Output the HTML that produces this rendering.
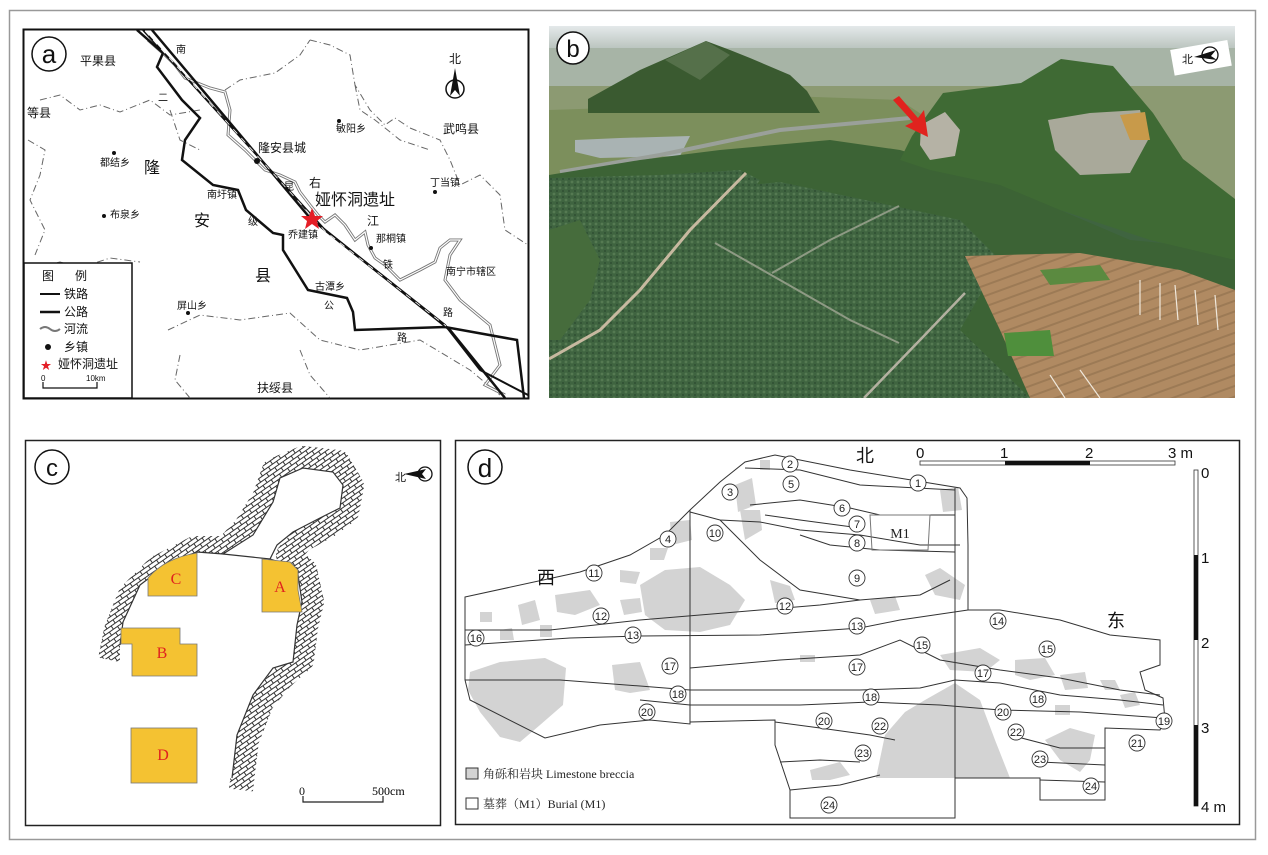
<!DOCTYPE html>
<html><head><meta charset="utf-8"><style>
html,body{margin:0;padding:0;background:#fff;}
body{width:1268px;height:855px;position:relative;overflow:hidden;font-family:"Liberation Serif","Noto Serif CJK SC","Noto Sans CJK SC",serif;}
svg{position:absolute;left:0;top:0;}
.t{font-family:"Liberation Sans","Noto Sans CJK SC",sans-serif;fill:#111;}
.n{font-family:"Liberation Sans",sans-serif;font-size:11px;fill:#222;text-anchor:middle;}
</style></head><body>
<svg width="1268" height="855" viewBox="0 0 1268 855">
<defs>
<pattern id="hatch" width="10" height="8" patternUnits="userSpaceOnUse" patternTransform="rotate(-35)">
<rect width="10" height="8" fill="#fff"/>
<path d="M0 0.5H10 M0 4.5H10 M2 0.5V4.5 M7 4.5V8.5" stroke="#333" stroke-width="1" fill="none"/>
</pattern>
<pattern id="crop" width="6" height="6" patternUnits="userSpaceOnUse">
<rect width="6" height="6" fill="#3f6440"/>
<circle cx="2" cy="2" r="1.4" fill="#557a52"/><circle cx="5" cy="5" r="1" fill="#2f4e33"/>
</pattern>
<pattern id="brown" width="14" height="10" patternUnits="userSpaceOnUse" patternTransform="rotate(-20)">
<rect width="14" height="10" fill="#b08a62"/>
<line x1="0" y1="5" x2="14" y2="5" stroke="#9c7a55" stroke-width="2"/>
</pattern>
<linearGradient id="sky" x1="0" y1="0" x2="0" y2="1">
<stop offset="0" stop-color="#e4e9ea"/><stop offset="1" stop-color="#b8c2bc"/>
</linearGradient>
</defs>
<rect x="9.5" y="10.5" width="1246" height="829" fill="none" stroke="#999" stroke-width="1.5"/>

<!-- ========== PANEL A ========== -->
<rect x="23.5" y="29.5" width="505" height="369" fill="#fff" stroke="#111" stroke-width="2"/>
<g fill="none" stroke="#666" stroke-width="1" stroke-dasharray="7,3,1,3">
<path d="M40 100 L60 95 L80 110 L100 105 L120 112 L150 100 L170 115 L200 110"/>
<path d="M28 140 L45 150 L40 175 L30 200 L45 230 L35 255"/>
<path d="M30 270 L60 262 L80 268 L110 258 L140 262"/>
<path d="M225 90 L240 80 L275 73 L300 55 L310 40"/>
<path d="M310 40 L330 45 L350 55 L355 85 L370 110 L385 125 L395 118 L410 128 L440 140 L450 160 L460 185 L480 175 L500 195 L505 230 L528 245"/>
<path d="M355 85 L360 110 L375 120 L400 140 L430 150"/>
<path d="M168 330 L200 315 L240 320 L290 313 L320 340 L360 350 L420 340 L470 370 L500 395"/>
<path d="M180 355 L175 380 L190 398"/>
<path d="M300 350 L310 375 L330 398"/>
<path d="M170 110 L180 140 L200 150"/>
</g>
<g fill="none" stroke="#777" stroke-width="3"><path d="M148 40 L165 55 L175 65 L185 78 L210 88 L225 92 L230 110 L228 135 L245 150 L265 170 L280 175 L295 182 L300 192 L310 205 L318 215 L325 222 L335 215 L345 225 L355 240 L365 232 L368 245 L375 258 L385 265 L400 280 L410 275 L420 270 L435 262 L440 248 L450 240 L460 240 L450 255 L445 280 L460 300 L490 325 L495 345 L500 365 L485 385 L505 395"/></g>
<g fill="none" stroke="#fff" stroke-width="1.2"><path d="M148 40 L165 55 L175 65 L185 78 L210 88 L225 92 L230 110 L228 135 L245 150 L265 170 L280 175 L295 182 L300 192 L310 205 L318 215 L325 222 L335 215 L345 225 L355 240 L365 232 L368 245 L375 258 L385 265 L400 280 L410 275 L420 270 L435 262 L440 248 L450 240 L460 240 L450 255 L445 280 L460 300 L490 325 L495 345 L500 365 L485 385 L505 395"/></g>
<g fill="none" stroke="#111" stroke-width="2.5">
<path d="M137 30 L163 53 L157 67 L182 100 L200 118 L185 140 L182 160 L213 185 L238 190 L246 210 L273 233 L283 235 L283 250 L308 290 L347 298 L353 312 L355 330 L445 327 L517 340 L524 398"/>
<path d="M152 30 L310 218 L450 330 L505 398"/>
</g>
<g fill="none" stroke="#111" stroke-width="2"><path d="M143 30 L325 230 L445 325 L480 370 L528 395"/></g>
<path d="M145 31 L325 231 L446 326" stroke="#fff" stroke-width="0.8" stroke-dasharray="6,6" fill="none"/>
<circle cx="49" cy="54" r="17" fill="#fff" stroke="#111" stroke-width="1.5"/>
<text x="49" y="63" font-size="26" text-anchor="middle" class="t">a</text>
<g class="t" font-size="12">
<text x="80" y="65">平果县</text><text x="27" y="117">等县</text>
<text x="176" y="53" font-size="10">南</text><text x="158" y="101" font-size="10">二</text>
<text x="336" y="132" font-size="10">敏阳乡</text><text x="443" y="133">武鸣县</text>
<text x="258" y="152">隆安县城</text><text x="100" y="166" font-size="10">都结乡</text>
<text x="144" y="173" font-size="16">隆</text><text x="309" y="187">右</text>
<text x="430" y="186" font-size="10">丁当镇</text><text x="207" y="198" font-size="10">南圩镇</text>
<text x="284" y="190" font-size="10">昆</text>
<text x="315" y="205" font-size="16">娅怀洞遗址</text>
<text x="110" y="218" font-size="10">布泉乡</text><text x="194" y="226" font-size="16">安</text>
<text x="248" y="225" font-size="10">级</text><text x="367" y="225">江</text>
<text x="288" y="238" font-size="10">乔建镇</text><text x="376" y="242" font-size="10">那桐镇</text>
<text x="383" y="268" font-size="10">铁</text><text x="446" y="275" font-size="10">南宁市辖区</text>
<text x="255" y="281" font-size="16">县</text><text x="315" y="290" font-size="10">古潭乡</text>
<text x="177" y="309" font-size="10">屏山乡</text><text x="324" y="309" font-size="10">公</text>
<text x="443" y="316" font-size="10">路</text><text x="397" y="341" font-size="10">路</text>
<text x="257" y="392">扶绥县</text>
</g>
<g fill="#111"><circle cx="339" cy="121" r="2"/><circle cx="257" cy="161" r="3"/><circle cx="114" cy="153" r="2"/><circle cx="435" cy="192" r="2"/><circle cx="104" cy="216" r="2"/><circle cx="371" cy="248" r="2"/><circle cx="188" cy="313" r="2"/></g>
<polygon points="312,208 315,216 323,216 317,221 319,229 312,224 305,229 307,221 301,216 309,216" fill="#e41e26"/>
<text x="455" y="63" font-size="12" text-anchor="middle" class="t">北</text>
<circle cx="455" cy="89" r="9" fill="none" stroke="#111" stroke-width="1.5"/>
<polygon points="455,68 460,96 455,90 450,96" fill="#111"/>
<rect x="24" y="263" width="108" height="135" fill="#fff" stroke="#111" stroke-width="1.5"/>
<g class="t" font-size="12"><text x="42" y="280">图</text><text x="75" y="280">例</text>
<text x="64" y="298">铁路</text><text x="64" y="316">公路</text><text x="64" y="333">河流</text><text x="64" y="351">乡镇</text><text x="58" y="368">娅怀洞遗址</text></g>
<line x1="40" y1="294" x2="60" y2="294" stroke="#111" stroke-width="2"/>
<line x1="40" y1="312" x2="60" y2="312" stroke="#111" stroke-width="2.5"/>
<path d="M40 329 q5 -4 10 0 q5 4 10 0" stroke="#777" stroke-width="2" fill="none"/>
<circle cx="48" cy="347" r="3" fill="#111"/>
<text x="46" y="369" font-size="11" fill="#e41e26" text-anchor="middle">★</text>
<path d="M43 382 V388 H97 V382" stroke="#111" stroke-width="1.2" fill="none"/>
<text x="41" y="381" font-size="8" class="t">0</text><text x="86" y="381" font-size="8" class="t">10km</text>

<!-- ========== PANEL B (photo) ========== -->
<svg x="549" y="26" width="686" height="372" viewBox="549 26 686 372">
<rect x="549" y="26" width="686" height="372" fill="#3f6440"/>
<rect x="549" y="26" width="686" height="24" fill="url(#sky)"/>
<rect x="549" y="48" width="686" height="40" fill="#a7b4a6"/>
<polygon points="549,86 1235,86 1235,200 549,200" fill="#8c9a72"/>
<polygon points="549,110 700,105 760,95 900,100 930,120 900,160 700,175 549,190" fill="#7c8f5c"/>
<polygon points="575,140 620,138 690,136 680,156 600,158 575,152" fill="#a9b3b3"/>
<polyline points="560,172 660,155 780,130 910,118" stroke="#9aa09a" stroke-width="4" fill="none"/>
<polygon points="588,99 640,70 706,41 730,50 750,58 790,75 807,91 820,113 588,113" fill="#3a5a30"/>
<polygon points="665,60 706,41 730,55 700,80" fill="#55704a"/>
<polygon points="549,175 640,160 720,150 830,140 900,150 1000,180 1060,210 1130,240 1235,250 1235,398 549,398" fill="#3c6335"/>
<polygon points="900,160 912,136 943,93 1021,83 1061,59 1113,66 1153,113 1183,159 1235,199 1235,260 1150,240 1060,210 1000,185 930,170" fill="#3f6a34"/>
<polygon points="1048,120 1090,113 1140,110 1148,140 1130,173 1080,175 1055,150" fill="#a9a99a"/>
<polygon points="1120,115 1145,112 1150,140 1130,140" fill="#c89a4a"/>
<polygon points="921,125 945,112 960,130 955,156 930,160 920,145" fill="#b5b2a5"/>
<polygon points="549,178 660,175 740,170 760,180 720,240 665,290 610,320 560,390 549,398" fill="url(#crop)"/>
<polygon points="700,190 780,182 960,220 1000,260 960,330 1030,398 549,398 549,250" fill="url(#crop)"/>
<polygon points="549,230 580,220 600,260 590,300 560,340 549,340" fill="#466c3c"/>
<polygon points="965,256 1080,253 1180,270 1235,290 1235,398 1030,398 1000,330" fill="url(#brown)"/>
<polygon points="1004,333 1050,330 1054,356 1008,356" fill="#4f8f3c"/>
<polygon points="1040,270 1100,265 1110,280 1050,285" fill="#5b8a40"/>
<polyline points="549,359 600,330 640,290 690,230 746,173" stroke="#c7b9a0" stroke-width="3" fill="none"/>
<polyline points="715,243 780,280 850,320 899,343" stroke="#8e9a84" stroke-width="2" fill="none"/>
<polyline points="772,273 830,240 899,206" stroke="#8e9a84" stroke-width="2" fill="none"/>
<polyline points="965,293 920,340 864,398" stroke="#b3b0a0" stroke-width="2.5" fill="none"/>
<g stroke="#efe8dc" stroke-width="1.2"><line x1="1140" y1="280" x2="1140" y2="315"/><line x1="1160" y1="283" x2="1160" y2="320"/><line x1="1175" y1="285" x2="1178" y2="320"/><line x1="1195" y1="290" x2="1198" y2="325"/><line x1="1215" y1="295" x2="1218" y2="330"/><line x1="1050" y1="375" x2="1065" y2="398"/><line x1="1080" y1="370" x2="1100" y2="398"/></g>
<polygon points="893,100 899,96 918,118 924,110 928,137 905,126 913,122" fill="#e0231e"/>
</svg>
<circle cx="573" cy="48" r="16" fill="#fff" stroke="#111" stroke-width="1.5"/>
<text x="573" y="57" font-size="24" text-anchor="middle" class="t">b</text>
<rect x="1172" y="45" width="58" height="26" fill="#fff" transform="rotate(-10 1200 58)"/>
<text x="1182" y="63" font-size="11" class="t">北</text>
<circle cx="1210" cy="55" r="8" fill="none" stroke="#111" stroke-width="1.3"/>
<polygon points="1194,57 1216,50 1211,56 1217,60" fill="#111"/>

<!-- ========== PANEL C ========== -->
<rect x="25.5" y="440.5" width="415" height="385" fill="#fff" stroke="#222" stroke-width="1.5"/>
<g fill="none" stroke="url(#hatch)" stroke-width="24" stroke-linejoin="round">
<path d="M110 660 L116 630 L130 595 L158 567 L195 548 L226 548 L245 528 L264 498 L274 470 L303 458 L338 462 L352 486 L347 512 L328 526 L302 540 L288 555 L305 570 L312 602 L306 627 L302 660 L282 678 L262 702 L247 740 L241 790"/>
</g>
<path d="M120 645 L123 622 L140 585 L170 562 L197 552 L223 554 L253 535 L273 502 L280 478 L303 468 L333 472 L343 485 L340 508 L320 518 L293 532 L277 545 L270 559 L297 568 L302 602 L297 625 L293 662 L273 668 L253 695 L237 735 L232 778 L120 778 Z" fill="#fff"/>
<g fill="none" stroke="#333" stroke-width="1.2">
<path d="M120 645 L123 622 L140 585 L170 562 L197 552 L223 554 L253 535 L273 502 L280 478 L303 468 L333 472 L343 485 L340 508 L320 518 L293 532 L277 545 L270 559"/>
<path d="M223 554 L270 559 L297 568 L302 602 L297 625 L293 662 L273 668 L253 695 L237 735 L232 778"/>
</g>
<g fill="#f4c232" stroke="#777" stroke-width="0.8">
<path d="M148 596 V578 Q165 558 197 553 V596 Z"/>
<path d="M262 559 L290 562 L298 570 L298 590 L302 612 L262 612 Z"/>
<path d="M121 628 H180 V644 H197 V676 H132 V644 H121 Z"/>
<rect x="131" y="728" width="66" height="55"/>
</g>
<g fill="#e0231e" font-size="16" text-anchor="middle"><text x="176" y="584">C</text><text x="280" y="592">A</text><text x="162" y="658">B</text><text x="163" y="760">D</text></g>
<circle cx="52" cy="467" r="17" fill="#fff" stroke="#111" stroke-width="1.5"/>
<text x="52" y="476" font-size="24" text-anchor="middle" class="t">c</text>
<text x="395" y="481" font-size="11" class="t">北</text>
<circle cx="425" cy="474" r="7" fill="none" stroke="#111" stroke-width="1.3"/>
<polygon points="404,474 426,469 422,474 426,479" fill="#111"/>
<path d="M303 796 V802 H383 V796" fill="none" stroke="#222" stroke-width="1.2"/>
<text x="299" y="795" font-size="12" class="t" style="font-family:'Liberation Serif',serif">0</text>
<text x="372" y="795" font-size="12" style="font-family:'Liberation Serif',serif">500cm</text>

<!-- ========== PANEL D ========== -->
<rect x="455.5" y="440.5" width="784" height="384" fill="#fff" stroke="#222" stroke-width="1.5"/>
<circle cx="485" cy="467" r="17" fill="#fff" stroke="#111" stroke-width="1.5"/>
<text x="485" y="477" font-size="26" text-anchor="middle" class="t">d</text>
<g fill="#d3d3d3">
<path d="M470 672 L500 662 L545 658 L566 668 L563 705 L540 725 L520 742 L500 737 L480 712 L468 690 Z"/>
<path d="M876 778 L885 735 L905 712 L925 700 L955 683 L980 700 L995 740 L1010 778 Z"/>
<path d="M640 585 L665 570 L700 567 L730 585 L745 600 L730 625 L700 632 L665 630 L645 615 Z"/>
<path d="M612 665 L640 662 L650 690 L630 693 L615 690 Z"/>
<path d="M1045 740 L1070 728 L1095 735 L1090 760 L1080 772 L1060 760 Z"/>
<path d="M810 770 L840 762 L850 775 L830 780 L812 780 Z"/>
<path d="M735 485 L752 478 L756 505 L738 512 Z"/>
<path d="M740 510 L760 510 L762 530 L745 540 Z"/>
<path d="M925 575 L940 568 L965 585 L960 600 L935 595 Z"/>
<path d="M940 490 L958 487 L962 510 L943 512 Z"/>
<path d="M940 655 L980 648 L1000 660 L985 672 L950 670 Z"/>
<path d="M1015 660 L1045 658 L1055 675 L1030 680 L1015 675 Z"/>
<path d="M1060 675 L1085 672 L1088 688 L1065 690 Z"/>
<path d="M1100 680 L1115 680 L1120 690 L1105 690 Z"/>
<path d="M555 595 L590 590 L600 605 L575 615 L557 612 Z"/>
<path d="M518 605 L535 600 L540 620 L522 625 Z"/>
<path d="M870 600 L895 596 L900 610 L875 614 Z"/>
<path d="M620 600 L640 598 L642 612 L624 615 Z"/>
<path d="M770 580 L790 586 L795 600 L775 603 Z"/>
<path d="M670 522 L690 520 L692 540 L672 545 Z"/>
<path d="M650 548 L668 548 L664 560 L650 560 Z"/>
<path d="M1120 695 L1135 692 L1140 705 L1125 708 Z"/>
<path d="M620 570 L640 572 L636 584 L620 582 Z"/>
<path d="M480 612 L492 612 L492 622 L480 622 Z"/>
<path d="M500 630 L512 628 L514 640 L500 640 Z"/>
<path d="M540 625 L552 625 L552 637 L540 637 Z"/>
<path d="M760 460 L770 460 L770 470 L760 470 Z"/>
<path d="M800 655 L815 655 L815 662 L800 662 Z"/>
<path d="M1055 705 L1070 705 L1070 715 L1055 715 Z"/>
</g>
<g fill="none" stroke="#333" stroke-width="1">
<path d="M465 597 L580 572 L630 555 L665 535 L690 510 L720 482 L745 462 L775 455 L850 470 L960 488 L967 498 L968 545 L968 610 L1000 610 L1060 620 L1110 635 L1160 640 L1160 665 L1140 672 L1145 690 L1163 698 L1165 720 L1160 730 L1105 728 L1105 800 L1040 800 L1040 778 L1010 778 L955 778 L955 818 L790 818 L790 790 L775 745 L775 720 L690 722 L690 724 L650 720 L600 725 L545 738 L470 700 L465 680 Z"/>
<path d="M690 510 L690 722"/>
<path d="M955 488 L955 778"/>
<path d="M465 630 L550 630 L640 620 L760 610 L820 605 L860 600"/>
<path d="M465 645 L570 638 L640 636 L760 635 L860 628 L900 620 L968 610"/>
<path d="M690 512 L720 520 L760 522 L800 530 L860 535 L920 545 L960 545"/>
<path d="M720 520 L760 560 L800 590 L860 600 L920 595 L950 580"/>
<path d="M745 468 L800 470 L860 485 L955 490"/>
<path d="M750 505 L800 500 L850 508 L880 515 L955 515"/>
<path d="M765 515 L800 520 L860 528"/>
<path d="M800 535 L830 545 L880 550 L955 552"/>
<path d="M690 668 L780 660 L860 655 L900 640 L940 660 L1000 670 L1060 678 L1120 690 L1160 695"/>
<path d="M465 680 L560 680 L640 686 L690 690 L780 690 L860 690 L920 688 L955 680 L1000 683 L1060 695 L1120 700 L1163 705"/>
<path d="M640 700 L690 705 L800 705 L870 702 L940 705 L1000 710 L1080 712 L1163 718"/>
<path d="M775 722 L820 728 L870 735 L895 740"/>
<path d="M790 790 L840 785 L880 775"/>
<path d="M1010 735 L1060 748 L1105 748"/>
<path d="M1105 765 L1040 762"/>
<path d="M780 762 L820 760 L860 762"/>
<path d="M1040 780 L1105 782"/>
<path d="M870 515 L930 515 L928 550 L872 550 Z" stroke="#777"/>
</g>
<text x="900" y="538" font-size="14" text-anchor="middle" fill="#222">M1</text>
<g fill="#fff" stroke="#333" stroke-width="0.9">
<circle cx="918" cy="483" r="8"/><circle cx="790" cy="464" r="8"/><circle cx="730" cy="492" r="8"/><circle cx="668" cy="539" r="8"/><circle cx="791" cy="484" r="8"/><circle cx="842" cy="508" r="8"/><circle cx="857" cy="524" r="8"/><circle cx="857" cy="543" r="8"/><circle cx="857" cy="578" r="8"/><circle cx="715" cy="533" r="8"/><circle cx="594" cy="573" r="8"/><circle cx="601" cy="616" r="8"/><circle cx="785" cy="606" r="8"/><circle cx="633" cy="635" r="8"/><circle cx="857" cy="626" r="8"/><circle cx="998" cy="621" r="8"/><circle cx="922" cy="645" r="8"/><circle cx="1047" cy="649" r="8"/><circle cx="476" cy="638" r="8"/><circle cx="670" cy="666" r="8"/><circle cx="857" cy="667" r="8"/><circle cx="983" cy="673" r="8"/><circle cx="678" cy="694" r="8"/><circle cx="871" cy="697" r="8"/><circle cx="1038" cy="699" r="8"/><circle cx="1164" cy="721" r="8"/><circle cx="647" cy="712" r="8"/><circle cx="824" cy="721" r="8"/><circle cx="1003" cy="712" r="8"/><circle cx="1137" cy="743" r="8"/><circle cx="880" cy="726" r="8"/><circle cx="1016" cy="732" r="8"/><circle cx="863" cy="753" r="8"/><circle cx="1040" cy="759" r="8"/><circle cx="829" cy="805" r="8"/><circle cx="1091" cy="786" r="8"/>
</g>
<g class="n">
<text x="918" y="487">1</text><text x="790" y="468">2</text><text x="730" y="496">3</text><text x="668" y="543">4</text><text x="791" y="488">5</text><text x="842" y="512">6</text><text x="857" y="528">7</text><text x="857" y="547">8</text><text x="857" y="582">9</text><text x="715" y="537">10</text><text x="594" y="577">11</text><text x="601" y="620">12</text><text x="785" y="610">12</text><text x="633" y="639">13</text><text x="857" y="630">13</text><text x="998" y="625">14</text><text x="922" y="649">15</text><text x="1047" y="653">15</text><text x="476" y="642">16</text><text x="670" y="670">17</text><text x="857" y="671">17</text><text x="983" y="677">17</text><text x="678" y="698">18</text><text x="871" y="701">18</text><text x="1038" y="703">18</text><text x="1164" y="725">19</text><text x="647" y="716">20</text><text x="824" y="725">20</text><text x="1003" y="716">20</text><text x="1137" y="747">21</text><text x="880" y="730">22</text><text x="1016" y="736">22</text><text x="863" y="757">23</text><text x="1040" y="763">23</text><text x="829" y="809">24</text><text x="1091" y="790">24</text>
</g>
<g class="t" font-size="18"><text x="856" y="462">北</text><text x="537" y="584">西</text><text x="1107" y="627">东</text></g>
<rect x="920" y="461" width="255" height="4" fill="#fff" stroke="#333" stroke-width="0.8"/>
<rect x="1005" y="461" width="85" height="4" fill="#111"/>
<g class="t" font-size="15"><text x="916" y="458">0</text><text x="1000" y="458">1</text><text x="1085" y="458">2</text><text x="1168" y="458">3 m</text>
<text x="1201" y="478">0</text><text x="1201" y="563">1</text><text x="1201" y="648">2</text><text x="1201" y="733">3</text><text x="1201" y="812">4 m</text></g>
<rect x="1194" y="470" width="4" height="336" fill="#fff" stroke="#333" stroke-width="0.8"/>
<rect x="1194" y="555" width="4" height="85" fill="#111"/>
<rect x="1194" y="725" width="4" height="81" fill="#111"/>
<rect x="466" y="768" width="12" height="11" fill="#d3d3d3" stroke="#333"/>
<text x="483" y="778" font-size="12" fill="#222">角砾和岩块 Limestone breccia</text>
<rect x="466" y="798" width="12" height="11" fill="#fff" stroke="#333"/>
<text x="483" y="808" font-size="12" fill="#222">墓葬（M1）Burial (M1)</text>
</svg>
</body></html>
